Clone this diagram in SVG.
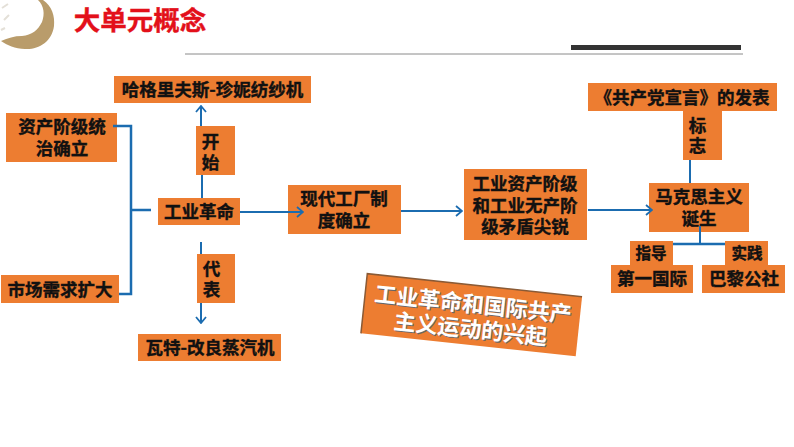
<svg xmlns="http://www.w3.org/2000/svg" width="794" height="447" viewBox="0 0 794 447">
<style>
text{font-family:"Noto Sans CJK SC","Liberation Sans",sans-serif;font-weight:700;text-anchor:middle}
.b{fill:#ed7d31}
.t{font-size:17.5px;fill:#111;stroke:#111;stroke-width:.4px}
.c{fill:none;stroke:#1b6cb0;stroke-width:2}
.k{stroke-width:2.5}
.a{marker-end:url(#arrow)}
</style>
<defs>
<marker id="arrow" viewBox="0 0 10 12" markerWidth="10" markerHeight="12" refX="9" refY="6" orient="auto" markerUnits="userSpaceOnUse"><path d="M3 1L9 6L3 11" fill="none" stroke="#1b6cb0" stroke-width="1.8"/></marker>
</defs>
<rect width="794" height="447" fill="#fff"/>
<g id="logo"><path d="M43 0C52 6 55 16 54 26C52 42 38 50 25 49C15 49 7 45 1 41C8 38 14 36 22 36C32 35 38 30 42 22C45 14 44 6 38 0Z" fill="#b99c6b"/><path d="M2 8L8 4M4 20L9 15M1 30L5 28" stroke="#e4e0d8" stroke-width="2" fill="none"/></g>
<g id="title"><text x="140" y="30" style="font-size:26.500px;fill:#e3101a;stroke:#e3101a;stroke-width:.4px">大单元概念</text></g>
<g id="rule"><path d="M185 54H743" stroke="#8a8a8a" stroke-width="1" fill="none"/><rect x="571" y="45" width="170" height="5" fill="#333"/></g>
<g id="n1"><rect class="b" x="114" y="76" width="197" height="27"/><text class="t" x="212.500" y="96">哈格里夫斯-珍妮纺纱机</text></g>
<g id="n2"><rect class="b" x="6" y="113" width="111" height="49"/><text class="t" x="62" y="133">资产阶级统</text><text class="t" x="62" y="155">治确立</text></g>
<g id="n3"><rect class="b" x="196" y="126" width="39" height="49"/><text class="t" x="210.500" y="148">开</text><text class="t" x="210.500" y="169">始</text></g>
<g id="n4"><rect class="b" x="158" y="198" width="82" height="27"/><text class="t" x="199" y="218">工业革命</text></g>
<g id="n5"><rect class="b" x="288" y="185" width="113" height="49"/><text class="t" x="344" y="205">现代工厂制</text><text class="t" x="344" y="227">度确立</text></g>
<g id="n6"><rect class="b" x="464" y="169" width="123" height="71"/><text class="t" x="525" y="190">工业资产阶级</text><text class="t" x="525" y="212">和工业无产阶</text><text class="t" x="525" y="233">级矛盾尖锐</text></g>
<g id="n7"><rect class="b" x="649" y="183" width="100" height="49"/><text class="t" x="699" y="203">马克思主义</text><text class="t" x="699" y="225">诞生</text></g>
<g id="n8"><rect class="b" x="588" y="83" width="189" height="28"/><text class="t" x="682" y="104">《共产党宣言》的发表</text></g>
<g id="n9"><rect class="b" x="683" y="111" width="39" height="49"/><text class="t" x="697.500" y="132">标</text><text class="t" x="697.500" y="152">志</text></g>
<g id="n10"><rect class="b" x="630" y="241" width="43" height="24"/><text class="t" x="651" y="259" style="font-size:15.500px">指导</text></g>
<g id="n11"><rect class="b" x="725" y="241" width="43" height="24"/><text class="t" x="747" y="259" style="font-size:15.500px">实践</text></g>
<g id="n12"><rect class="b" x="611" y="265" width="82" height="28"/><text class="t" x="652" y="285">第一国际</text></g>
<g id="n13"><rect class="b" x="702" y="265" width="83" height="28"/><text class="t" x="744" y="285">巴黎公社</text></g>
<g id="n14"><rect class="b" x="1" y="275" width="118" height="28"/><text class="t" x="60" y="296">市场需求扩大</text></g>
<g id="n15"><rect class="b" x="197" y="254" width="38" height="49"/><text class="t" x="211.500" y="275">代</text><text class="t" x="211.500" y="296">表</text></g>
<g id="n16"><rect class="b" x="138" y="334" width="143" height="27"/><text class="t" x="210" y="354">瓦特-改良蒸汽机</text></g>
<g id="n17" transform="rotate(6.100 471.500 315)">
<rect x="363.500" y="285" width="216" height="60" fill="#ed7d31"/><path d="M363.500 345V285H579.500" fill="none" stroke="#8a5a35" stroke-width="1.500"/>
<g style="font-size:22px;font-weight:500"><text x="473" y="313" fill="#666">工业革命和国际共产</text><text x="473" y="338" fill="#666">主义运动的兴起</text><text x="472" y="312" fill="#fff">工业革命和国际共产</text><text x="472" y="337" fill="#fff">主义运动的兴起</text></g>
</g>
<g id="connectors">
<path class="c k" d="M113 126H131V294H119M131 210H151"/>
<path class="c" d="M202 198V175"/>
<path class="c a" d="M201 126V106"/>
<path class="c a" d="M240 212H303"/>
<path class="c a" d="M401 211H462"/>
<path class="c a" d="M588 210H652"/>
<path class="c" d="M201 242V254"/>
<path class="c a" d="M201 303V323"/>
<path class="c" d="M690 160V183M700 226V244"/>
<path class="c k" d="M673 244H725"/>
</g>
</svg>
